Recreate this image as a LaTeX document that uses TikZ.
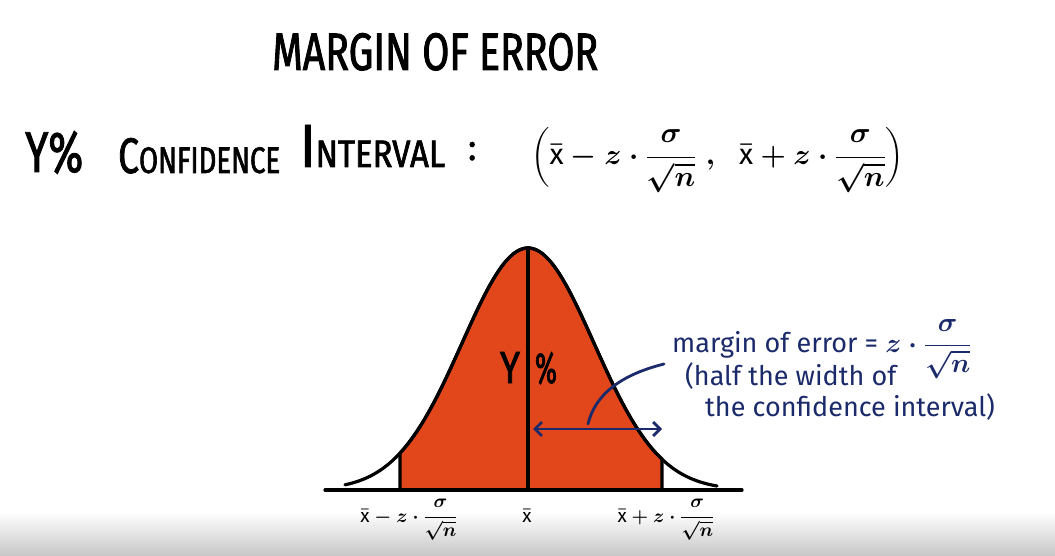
\RequirePackage{fix-cm}
\documentclass[tikz,border=0pt]{standalone}
\usepackage{amsmath}
\usepackage{graphicx}
\usepackage{fontspec}
\setmainfont{Fira Sans}
\newfontfamily\handfont[FakeStretch=0.7,FakeBold=1.5]{Fira Sans}
\usetikzlibrary{arrows.meta,positioning}
\definecolor{bellfill}{HTML}{E1471B}
\definecolor{inkblue}{HTML}{1B2A6B}
\newcommand{\xbar}{\bar{\text{x}}}

\begin{document}
\begin{tikzpicture}[x=1pt,y=-1pt,
  ink/.style={line width=3.2pt,line cap=round,line join=round},
  blueink/.style={inkblue,line width=2.8pt,line cap=round},
  bignote/.style={font=\handfont\fontsize{54}{56}\selectfont,inner sep=0pt,anchor=base west},
  bluenote/.style={inkblue,font=\fontsize{27}{29}\selectfont\boldmath,inner sep=0pt,anchor=base west},
  ticklabel/.style={font=\fontsize{19}{21}\selectfont\boldmath,inner sep=0pt,anchor=base}]
\useasboundingbox (0,0) rectangle (1055,556);
\fill[white] (0,0) rectangle (1055,556);
\shade[top color=white,bottom color=black!22] (0,512) rectangle (1055,556);
% headings
\node[bignote] (title) at (272,70) {\resizebox{326pt}{37pt}{MARGIN OF ERROR}};
\node[bignote] (ciY) at (25,172) {\resizebox{58pt}{41pt}{Y\%}};
\node[bignote] (ciConf) at (118,173) {\resizebox{162pt}{35pt}{C{\fontsize{40}{42}\selectfont ONFIDENCE}}};
\node[bignote] (ciInt) at (300,167) {\resizebox{145pt}{42pt}{I{\fontsize{34}{36}\selectfont NTERVAL}}};
\node[bignote] (ciColon) at (468,160) {\resizebox{8pt}{18pt}{:}};
\node[inner sep=0pt,anchor=west,font=\fontsize{29}{31}\selectfont\boldmath] (ciform) at (531,160)
  {$\Bigl(\xbar-z\cdot\dfrac{\sigma}{\sqrt{n}}\;,\;\; \xbar+z\cdot\dfrac{\sigma}{\sqrt{n}}\Bigr)$};
% bell curve
\coordinate (axL) at (325,490);
\coordinate (axR) at (742,490);
\coordinate (lo) at (400,490);
\coordinate (mu) at (528,490);
\coordinate (hi) at (662,490);
\coordinate (peak) at (528,248);
\draw[ink,fill=bellfill] (lo) -- plot[domain=400:662,samples=100] (\x,{490-242*exp(-0.5*((\x-528)/66)^2)}) -- (hi);
\draw[ink] plot[domain=345:717,samples=140] (\x,{490-242*exp(-0.5*((\x-528)/66)^2)});
\draw[ink] (peak) -- (mu);
\draw[ink] (axL) -- (axR);
\node[bignote,anchor=base] (ylab) at (510,383) {\resizebox{20pt}{31pt}{Y}};
\node[bignote,anchor=base] (pct) at (546,383) {\resizebox{22pt}{31pt}{\%}};
% axis labels
\node[ticklabel] (lolab) at (409,522) {$\xbar-z\cdot\dfrac{\sigma}{\sqrt{n}}$};
\node[ticklabel] (mulab) at (527,522) {$\xbar$};
\node[ticklabel] (hilab) at (666,522) {$\xbar+z\cdot\dfrac{\sigma}{\sqrt{n}}$};
% margin of error note
\node[bluenote] (note1) at (672,352) {margin of error = $z\cdot\dfrac{\sigma}{\sqrt{n}}$};
\node[bluenote] (note2) at (685,385) {(half the width of};
\node[bluenote] (note3) at (705,416) {the confidence interval)};
\coordinate (arrL) at (533,429);
\coordinate (arrR) at (662,429);
\coordinate (leadS) at (664,364);
\coordinate (leadE) at (588,424);
\draw[blueink,{Straight Barb[length=7pt,width=14pt]}-{Straight Barb[length=7pt,width=14pt]}] (arrL) -- (arrR);
\draw[blueink] (leadS) .. controls (620,375) and (595,395) .. (leadE);
\end{tikzpicture}
\end{document}
